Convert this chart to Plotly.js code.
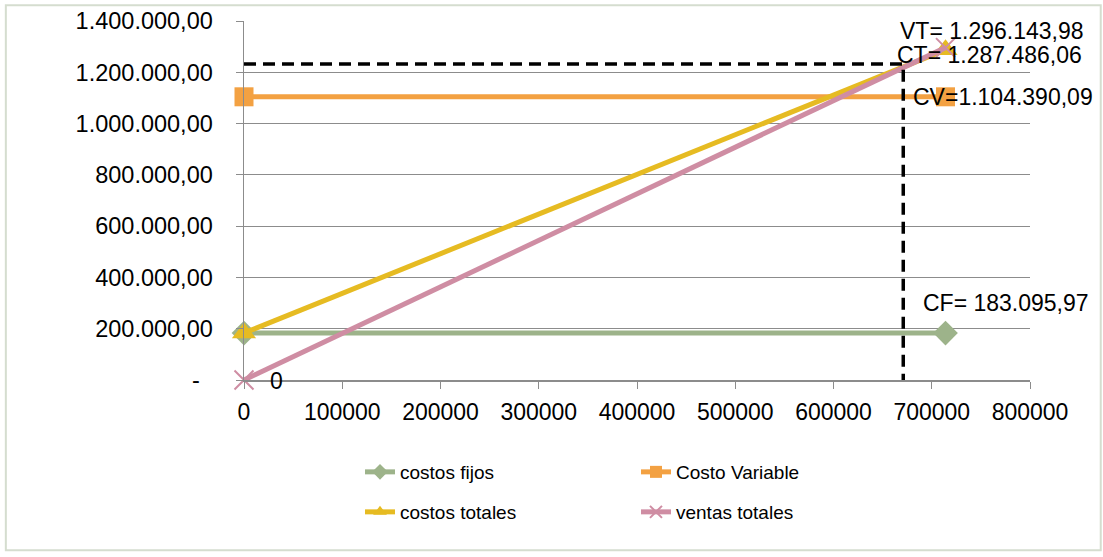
<!DOCTYPE html>
<html>
<head>
<meta charset="utf-8">
<script src="https://cdn.plot.ly/plotly-3.0.1.min.js"></script>
<style>
html,body{margin:0;padding:0;background:#fff;}
#chart{width:1103px;height:557px;}
</style>
</head>
<body>
<div id="chart"></div>
<script>
// ---- data ----
const qty = [0, 714000];
const costosFijos = [183095.97, 183095.97];
const costoVariable = [1104390.09, 1104390.09];
const costosTotales = [183095.97, 1287486.06];
const ventasTotales = [0, 1296143.98];
const breakEvenQ = 671000;
const breakEvenV = 1232000;

const seriesNames = ['costos fijos', 'Costo Variable', 'costos totales', 'ventas totales'];
const labelTexts = ['CF= 183.095,97', 'CV=1.104.390,09', 'CT= 1.287.486,06', 'VT= 1.296.143,98', '0'];

const yTickVals = [0, 200000, 400000, 600000, 800000, 1000000, 1200000, 1400000];
const yTickText = ['-\u00a0\u00a0', '200.000,00', '400.000,00', '600.000,00', '800.000,00', '1.000.000,00', '1.200.000,00', '1.400.000,00'];
const xTickVals = [0, 100000, 200000, 300000, 400000, 500000, 600000, 700000, 800000];
const xTickText = ['0', '100000', '200000', '300000', '400000', '500000', '600000', '700000', '800000'];

const FONT = 'Liberation Sans, Arial, sans-serif';

const traces = [
  {x: qty, y: costosFijos, name: seriesNames[0], mode: 'lines+markers', legend: 'legend', cliponaxis: false,
   line: {color: '#9DB38A', width: 5}, marker: {symbol: 'diamond', size: 19, color: '#9DB38A'}},
  {x: qty, y: costoVariable, name: seriesNames[1], mode: 'lines+markers', legend: 'legend2', cliponaxis: false,
   line: {color: '#F3A142', width: 5}, marker: {symbol: 'square', size: 19, color: '#F3A142'}},
  {x: qty, y: costosTotales, name: seriesNames[2], mode: 'lines+markers', legend: 'legend3', cliponaxis: false,
   line: {color: '#E6BB22', width: 5}, marker: {symbol: 'triangle-up', size: 21, color: '#E6BB22'}},
  {x: qty, y: ventasTotales, name: seriesNames[3], mode: 'lines+markers', legend: 'legend4', cliponaxis: false,
   line: {color: '#CF8DA3', width: 5}, marker: {symbol: 'x-thin', size: 19, line: {color: '#CF8DA3', width: 2}}},
  {x: [0, breakEvenQ, breakEvenQ], y: [breakEvenV, breakEvenV, 0], mode: 'lines', showlegend: false,
   hoverinfo: 'skip', line: {color: '#000', width: 3.5, dash: '12px,7px'}}
];

const n = qty.length - 1;
const annotations = [
  {x: qty[n], y: costosFijos[n], text: labelTexts[0], xshift: -25, yshift: 30},
  {x: qty[n], y: costoVariable[n], text: labelTexts[1], xshift: -35, yshift: 0},
  {x: qty[n], y: costosTotales[n], text: labelTexts[2], xshift: -51, yshift: -5},
  {x: qty[n], y: ventasTotales[n], text: labelTexts[3], xshift: -48, yshift: 17},
  {x: qty[0], y: ventasTotales[0], text: labelTexts[4], xshift: 24, yshift: -1}
].map(a => Object.assign(a, {xref: 'x', yref: 'y', xanchor: 'left', yanchor: 'middle', showarrow: false,
                              font: {family: FONT, size: 23, color: '#000'}}));

function leg(xp, yp) {
  return {orientation: 'v', x: xp, y: yp, xanchor: 'left', yanchor: 'middle', itemsizing: 'constant',
          font: {family: FONT, size: 19, color: '#000'}, bgcolor: 'rgba(0,0,0,0)'};
}

const layout = {
  width: 1103, height: 557,
  margin: {l: 244, r: 73, t: 21, b: 177},
  paper_bgcolor: '#fff', plot_bgcolor: '#fff',
  font: {family: FONT, size: 22, color: '#000'},
  xaxis: {range: [0, 800000], tickvals: xTickVals, ticktext: xTickText, showgrid: false, zeroline: false,
          showline: true, linecolor: '#8C8C8C', linewidth: 1.5, ticks: 'outside', ticklen: 7, tickcolor: '#8C8C8C',
          ticklabelstandoff: 4, tickfont: {family: FONT, size: 23, color: '#000'}},
  yaxis: {range: [0, 1400000], tickvals: yTickVals, ticktext: yTickText, showgrid: true, gridcolor: '#8C8C8C', gridwidth: 1.2,
          zeroline: false, showline: true, linecolor: '#8C8C8C', linewidth: 1.5, ticks: 'outside', ticklen: 7, tickcolor: '#8C8C8C',
          ticklabelstandoff: 18, tickfont: {family: FONT, size: 23.5, color: '#000'}},
  legend: leg(0.1476, -0.2563),
  legend2: leg(0.4987, -0.2563),
  legend3: leg(0.1476, -0.3677),
  legend4: leg(0.4987, -0.3677),
  annotations: annotations,
  shapes: [{type: 'rect', xref: 'paper', yref: 'paper', x0: -0.303, x1: 1.09, y0: -0.474, y1: 1.044,
            line: {color: '#D5DDCF', width: 2}, fillcolor: 'rgba(0,0,0,0)', layer: 'below'}],
  showlegend: true
};

Plotly.newPlot('chart', traces, layout, {displayModeBar: false, staticPlot: true});
</script>
</body>
</html>
